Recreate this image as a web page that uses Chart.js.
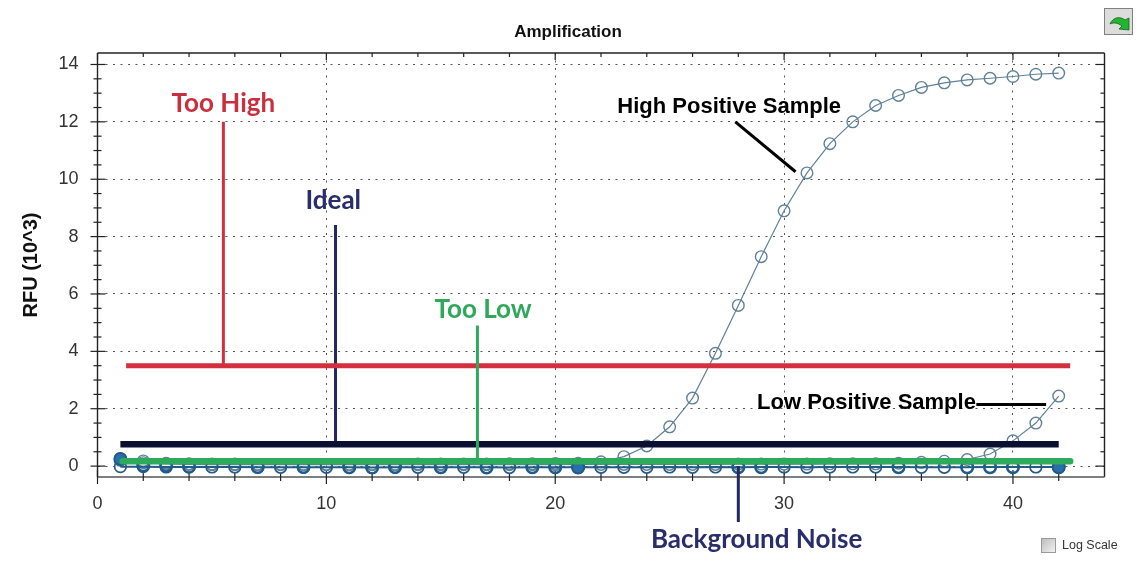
<!DOCTYPE html>
<html>
<head>
<meta charset="utf-8">
<title>Amplification</title>
<script src="https://cdn.jsdelivr.net/npm/chart.js@4"></script>
<style>
  html, body { margin: 0; padding: 0; background: #fff; }
  #wrap { position: relative; width: 1136px; height: 562px; overflow: hidden; }
  #amp { position: absolute; left: 0; top: 0; }
  #logbox { position: absolute; left: 1041px; top: 538px; width: 13px; height: 13px; border: 1px solid #9a9a9a;
    background: linear-gradient(135deg, #bdbdbd, #f2f2f2); }
  #loglabel { position: absolute; left: 1062px; top: 538px; font: 12.5px "Liberation Sans", sans-serif; color: #333; }
  #btn { position: absolute; left: 1104px; top: 8px; width: 27px; height: 25px; border: 1px solid #808080; background: #dcdcdc; }
</style>
</head>
<body>
<div id="wrap">
  <canvas id="amp" width="1136" height="562"></canvas>
  <div id="btn">
    <svg width="27" height="25" viewBox="0 0 27 25">
      <path d="M5 15 C8 8 15 7 20 11 L24 9 L24 21 L14 20 L17 17 C13 14 9 13 5 15 Z" fill="#21b532" stroke="#14601c" stroke-width="0.8"/>
    </svg>
  </div>
  <div id="logbox"></div>
  <div id="loglabel">Log Scale</div>
</div>
<script>
const cycles = [1,2,3,4,5,6,7,8,9,10,11,12,13,14,15,16,17,18,19,20,21,22,23,24,25,26,27,28,29,30,31,32,33,34,35,36,37,38,39,40,41,42];

const highPositive = [0.25,0.18,0.1,0.08,0.07,0.07,0.06,0.06,0.06,0.06,0.06,0.06,0.06,0.07,0.07,0.07,0.07,0.08,0.08,0.09,0.1,0.15,0.33,0.7,1.37,2.37,3.93,5.6,7.3,8.9,10.22,11.24,12.0,12.57,12.92,13.2,13.36,13.46,13.52,13.58,13.66,13.7];
const lowPositive = [0.2,0.12,0.08,0.06,0.05,0.05,0.05,0.05,0.05,0.05,0.05,0.05,0.05,0.05,0.05,0.05,0.05,0.05,0.05,0.05,0.06,0.06,0.06,0.06,0.06,0.06,0.06,0.07,0.07,0.07,0.07,0.08,0.08,0.08,0.1,0.13,0.17,0.23,0.42,0.88,1.5,2.44];
const noiseBase = [-0.02,-0.02,-0.03,-0.03,-0.03,-0.03,-0.04,-0.04,-0.04,-0.04,-0.04,-0.05,-0.04,-0.04,-0.04,-0.04,-0.04,-0.05,-0.04,-0.04,-0.04,-0.04,-0.04,-0.04,-0.03,-0.04,-0.03,-0.04,-0.03,-0.03,-0.04,-0.03,-0.03,-0.03,-0.03,-0.04,-0.04,-0.04,-0.03,-0.03,-0.03,-0.03];
const noiseDark = [0.25,0.03,0.02,-0.02,null,null,-0.03,null,-0.03,null,-0.04,-0.05,-0.03,null,-0.04,null,-0.05,null,-0.04,-0.04,-0.05,null,null,null,null,null,null,-0.04,-0.04,null,null,null,null,null,-0.04,null,null,-0.04,-0.04,-0.04,null,-0.04];
const noiseFilled = [0.25,null,null,null,null,null,null,null,null,null,null,null,null,null,null,null,null,null,null,null,-0.05,null,null,null,null,null,null,null,null,null,null,null,null,null,null,null,null,null,null,null,null,-0.04];

const tooHighX = [1.25, 42.5];
const tooHighY = [3.5, 3.5];
const idealX = [1, 42];
const idealY = [0.76, 0.76];
const tooLowX = [1.1, 42.5];
const tooLowY = [0.17, 0.17];
const tooHighDropX = [5.5, 5.5];
const tooHighDropY = [12, 3.5];
const idealDropX = [10.4, 10.4];
const idealDropY = [8.4, 0.76];
const tooLowDropX = [16.6, 16.6];
const tooLowDropY = [4.9, 0.17];
const noiseDropX = [28, 28];
const noiseDropY = [0, -1.95];
const highPointerX = [27.87, 30.5];
const highPointerY = [12, 10.26];
const lowPointerX = [38.4, 41.45];
const lowPointerY = [2.15, 2.15];

const xTicks = [0, 10, 20, 30, 40];
const yTicks = [0, 2, 4, 6, 8, 10, 12, 14];
const xMinor = [2, 4, 6, 8, 12, 14, 16, 18, 22, 24, 26, 28, 32, 34, 36, 38, 42];
const yMinor = [0.5, 1, 1.5, 2.5, 3, 3.5, 4.5, 5, 5.5, 6.5, 7, 7.5, 8.5, 9, 9.5, 10.5, 11, 11.5, 12.5, 13, 13.5];

const RED = '#d2303f';
const NAVY = '#25285f';
const BLACKISH = '#0b1030';
const GREEN = '#2eaa5c';

const pairs = (xs, ys) => xs.map((x, i) => ({ x, y: ys[i] }));

const circles = (label, ys, color, width, order, lineWidth, fill) => ({
  label, data: pairs(cycles, ys), order,
  borderColor: color, borderWidth: lineWidth,
  pointRadius: 5.8, pointBorderColor: color, pointBorderWidth: width,
  pointBackgroundColor: fill || 'rgba(0,0,0,0)',
  showLine: true, spanGaps: false, clip: false
});

const stroke = (label, xs, ys, color, width, order, cap) => ({
  label, data: pairs(xs, ys), order,
  borderColor: color, borderWidth: width, pointRadius: 0,
  showLine: true, clip: false, borderCapStyle: cap || 'butt'
});

// axis frame, tick marks on all four sides, and the annotation text
const overlay = {
  id: 'overlay',
  beforeDatasetsDraw(chart) {
    const { ctx, chartArea: a, scales: { x, y } } = chart;
    ctx.save();
    const seg = (x0, y0, x1, y1) => { ctx.beginPath(); ctx.moveTo(x0, y0); ctx.lineTo(x1, y1); ctx.stroke(); };
    ctx.strokeStyle = '#222';
    ctx.lineWidth = 1.4;
    seg(a.left, a.top, a.right, a.top);
    seg(a.left, a.top, a.left, a.bottom);
    seg(a.right, a.top, a.right, a.bottom);
    ctx.strokeStyle = '#555';
    ctx.lineWidth = 1.6;
    seg(a.left, a.bottom, a.right, a.bottom);
    ctx.strokeStyle = '#222';
    ctx.lineWidth = 1.2;
    yTicks.forEach(v => { const p = y.getPixelForValue(v); seg(a.left - 7, p, a.left + 8, p); seg(a.right - 9, p, a.right, p); });
    yMinor.forEach(v => { const p = y.getPixelForValue(v); seg(a.left - 4, p, a.left + 4, p); seg(a.right - 4, p, a.right, p); });
    xTicks.forEach(v => { const p = x.getPixelForValue(v); seg(p, a.bottom - 7, p, a.bottom + 7); seg(p, a.top, p, a.top + 7); });
    xMinor.forEach(v => { const p = x.getPixelForValue(v); seg(p, a.bottom - 4, p, a.bottom + 4); seg(p, a.top, p, a.top + 4); });
    ctx.restore();
  },
  afterDatasetsDraw(chart) {
    const { ctx, scales: { x, y } } = chart;
    const label = (text, vx, vy, font, color) => {
      ctx.font = font;
      ctx.fillStyle = color;
      ctx.fillText(text, x.getPixelForValue(vx), y.getPixelForValue(vy));
    };
    ctx.save();
    ctx.textAlign = 'center';
    ctx.textBaseline = 'middle';
    const callout = 'bold 26px Lato';
    label('Too High', 5.5, 12.64, callout, '#c8303f');
    label('Ideal', 10.3, 9.25, callout, '#2a2d6b');
    label('Too Low', 16.85, 5.45, callout, '#2fa85a');
    label('Background Noise', 28.8, -2.55, callout, '#2a2d6b');
    const sample = 'bold 22px "Liberation Sans"';
    label('High Positive Sample', 27.6, 12.53, sample, '#000');
    label('Low Positive Sample', 33.6, 2.2, sample, '#000');
    ctx.restore();
  }
};

new Chart(document.getElementById('amp'), {
  type: 'scatter',
  data: {
    datasets: [
      stroke('Low pointer', lowPointerX, lowPointerY, '#000', 3, 1),
      stroke('High pointer', highPointerX, highPointerY, '#000', 3, 1),
      stroke('Noise drop', noiseDropX, noiseDropY, NAVY, 3, 2),
      stroke('Too low', tooLowX, tooLowY, GREEN, 6.5, 3, 'round'),
      stroke('Too low drop', tooLowDropX, tooLowDropY, GREEN, 3, 4),
      stroke('Ideal', idealX, idealY, BLACKISH, 6.5, 4),
      stroke('Ideal drop', idealDropX, idealDropY, NAVY, 3, 5),
      stroke('Too high', tooHighX, tooHighY, RED, 5, 4),
      stroke('Too high drop', tooHighDropX, tooHighDropY, RED, 3, 5),
      circles('Noise filled', noiseFilled, '#1f5c8c', 1.5, 6, 0, '#2a6fa8'),
      circles('Noise dark', noiseDark, '#1f5c8c', 2.4, 6, 0),
      circles('Noise base', noiseBase, '#245a85', 1.7, 7, 2),
      circles('Low positive', lowPositive, '#5f8297', 1.4, 8, 1.2),
      circles('High positive', highPositive, '#5f8297', 1.4, 9, 1.2)
    ]
  },
  options: {
    responsive: false,
    animation: false,
    events: [],
    layout: { padding: 0 },
    plugins: {
      legend: { display: false },
      tooltip: { enabled: false },
      title: {
        display: true,
        text: 'Amplification',
        color: '#111',
        font: { family: 'Liberation Sans', size: 17, weight: 'bold' },
        padding: { top: 22, bottom: 10.6 }
      }
    },
    scales: {
      x: {
        type: 'linear',
        min: 0,
        max: 44,
        afterBuildTicks: s => { s.ticks = xTicks.map(value => ({ value })); },
        afterFit: s => { s.height = 85; },
        ticks: { color: '#333', font: { family: 'Liberation Sans', size: 18 }, padding: 16, maxRotation: 0, autoSkip: false },
        grid: { color: '#555', lineWidth: 1, drawTicks: false },
        border: { display: false, dash: [2, 5.5] }
      },
      y: {
        type: 'linear',
        min: -0.38,
        max: 14.4,
        afterBuildTicks: s => { s.ticks = yTicks.map(value => ({ value })); },
        afterFit: s => { s.width = 97.5; },
        ticks: { color: '#333', font: { family: 'Liberation Sans', size: 18 }, padding: 19, autoSkip: false },
        grid: { color: '#555', lineWidth: 1, drawTicks: false },
        border: { display: false, dash: [2, 5.5] },
        title: {
          display: true,
          text: 'RFU (10^3)',
          color: '#111',
          font: { family: 'Liberation Sans', size: 20, weight: 'bold' },
          padding: { top: 19, bottom: 0 }
        }
      },
      // empty right-hand axis: reserves the margin so the title centres on the page
      margin: {
        type: 'linear',
        position: 'right',
        min: 0,
        max: 1,
        afterFit: s => { s.width = 31.5; },
        ticks: { display: false },
        grid: { display: false },
        border: { display: false }
      }
    }
  },
  plugins: [overlay]
});
</script>
</body>
</html>
